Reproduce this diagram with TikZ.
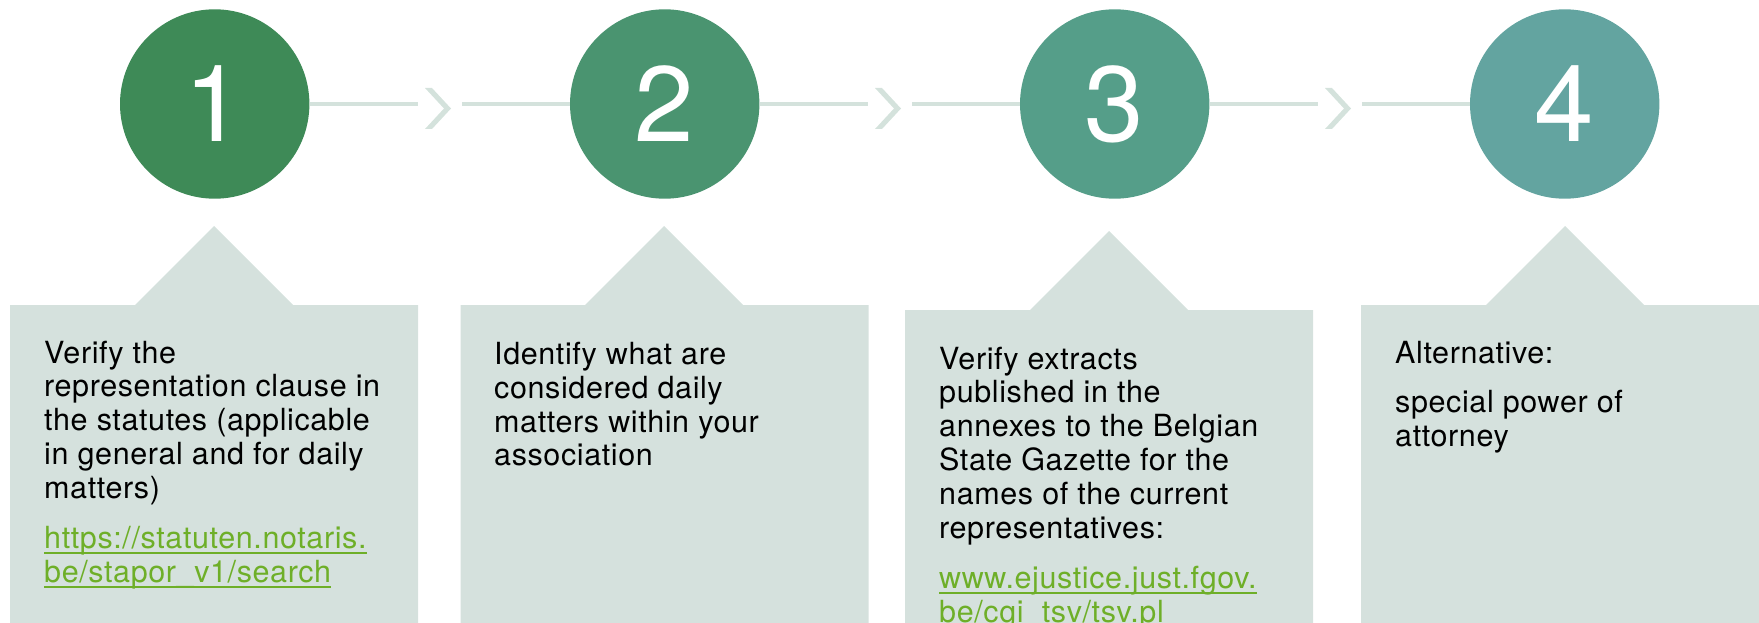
\documentclass[tikz,border=0pt]{standalone}
\usepackage{fontspec}
\setmainfont{TeX Gyre Heros}
\newfontfamily\bodyf[LetterSpace=2.0]{TeX Gyre Heros}
\newfontfamily\digitf{TeX Gyre Heros}
\definecolor{cA}{HTML}{3E8A57}
\definecolor{cB}{HTML}{4A9470}
\definecolor{cC}{HTML}{559E89}
\definecolor{cD}{HTML}{63A4A0}
\definecolor{connc}{HTML}{D4E2DC}
\definecolor{boxc}{HTML}{D5E1DD}
\definecolor{linkc}{HTML}{6EAF28}
\tikzset{
  stepcircle/.style={circle, minimum size=189.4pt, inner sep=0pt, text=white,
    font=\digitf\fontsize{107pt}{107pt}\selectfont},
  conn/.style={draw=connc, line width=3.3pt},
  chev/.style={fill=connc},
  boxshape/.style={fill=boxc},
  txt/.style={anchor=base west, inner sep=0pt, text=black,
    font=\bodyf\fontsize{30.5pt}{34pt}\selectfont},
  lnk/.style={txt, text=linkc},
  uline/.style={draw=linkc, line width=2pt}
}
\begin{document}
\begin{tikzpicture}[x=1pt, y=-1pt]
\useasboundingbox (0,0) rectangle (1759,623);
% boxes
\path[boxshape] (10,305) -- (135,305) -- (214,226) -- (293,305) -- (418,305) -- (418,640) -- (10,640) -- cycle;
\path[boxshape] (460.7,305) -- (585,305) -- (664,226) -- (743,305) -- (868.7,305) -- (868.7,640) -- (460.7,640) -- cycle;
\path[boxshape] (905,310) -- (1030,310) -- (1109,231) -- (1188,310) -- (1313,310) -- (1313,640) -- (905,640) -- cycle;
\path[boxshape] (1361,305) -- (1486,305) -- (1565,226) -- (1644,305) -- (1780,305) -- (1780,640) -- (1361,640) -- cycle;
% circles
\node[stepcircle, fill=cA] (c1) at (214.7,104) {1};
\node[stepcircle, fill=cB] (c2) at (664.7,104) {2};
\node[stepcircle, fill=cC] (c3) at (1114.7,104) {3};
\node[stepcircle, fill=cD] (c4) at (1564.7,104) {4};
% connectors
\coordinate (a1) at (418,104); \coordinate (b1) at (462,104);
\coordinate (a2) at (868,104); \coordinate (b2) at (912,104);
\coordinate (a3) at (1318,104); \coordinate (b3) at (1362,104);
\draw[conn] (c1.east) -- (a1); \draw[conn] (b1) -- (c2.west);
\draw[conn] (c2.east) -- (a2); \draw[conn] (b2) -- (c3.west);
\draw[conn] (c3.east) -- (a3); \draw[conn] (b3) -- (c4.west);
\fill[chev] (425,88) -- (432,88) -- (451,108.5) -- (432,129) -- (425,129) -- (444,108.5) -- cycle;
\fill[chev] (875,88) -- (882,88) -- (901,108.5) -- (882,129) -- (875,129) -- (894,108.5) -- cycle;
\fill[chev] (1325,88) -- (1332,88) -- (1351,108.5) -- (1332,129) -- (1325,129) -- (1344,108.5) -- cycle;
% box 1 text
\node[txt] (t1a) at (44,363) {Verify the};
\node[txt] (t1b) at (44,396.8) {representation clause in};
\node[txt] (t1c) at (44,430.6) {the statutes (applicable};
\node[txt] (t1d) at (44,464.4) {in general and for daily};
\node[txt] (t1e) at (44,498.2) {matters)};
\node[lnk] (l1a) at (44,548) {https://statuten.notaris.};
\node[lnk] (l1b) at (44,582) {be/stapor\_v1/search};
\draw[uline] ([yshift=-4.5pt]l1a.base west) -- ([yshift=-4.5pt]l1a.base east);
\draw[uline] ([yshift=-4.5pt]l1b.base west) -- ([yshift=-4.5pt]l1b.base east);
% box 2 text
\node[txt] (t2a) at (494,364) {Identify what are};
\node[txt] (t2b) at (494,398) {considered daily};
\node[txt] (t2c) at (494,432) {matters within your};
\node[txt] (t2d) at (494,465.5) {association};
% box 3 text
\node[txt] (t3a) at (939,369) {Verify extracts};
\node[txt] (t3b) at (939,402.8) {published in the};
\node[txt] (t3c) at (939,436.6) {annexes to the Belgian};
\node[txt] (t3d) at (939,470.4) {State Gazette for the};
\node[txt] (t3e) at (939,504.2) {names of the current};
\node[txt] (t3f) at (939,538) {representatives:};
\node[lnk] (l3a) at (939,588) {www.ejustice.just.fgov.};
\node[lnk] (l3b) at (939,622) {be/cgi\_tsv/tsv.pl};
\draw[uline] ([yshift=-4.5pt]l3a.base west) -- ([yshift=-4.5pt]l3a.base east);
\draw[uline] ([yshift=-4.5pt]l3b.base west) -- ([yshift=-4.5pt]l3b.base east);
% box 4 text
\node[txt] (t4a) at (1395,363) {Alternative:};
\node[txt] (t4b) at (1395,412) {special power of};
\node[txt] (t4c) at (1395,446) {attorney};
\end{tikzpicture}
\end{document}
